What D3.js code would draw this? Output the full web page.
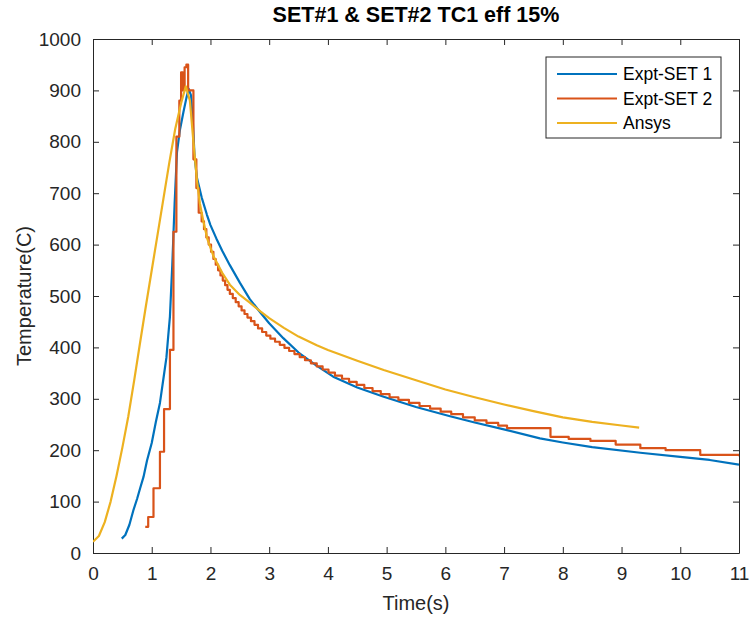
<!DOCTYPE html>
<html>
<head>
<meta charset="utf-8">
<script src="https://cdn.jsdelivr.net/npm/d3@7"></script>
<style>
  body { margin: 0; background: #fff; }
  svg { display: block; font-family: "Liberation Sans", Arial, sans-serif; }
  .axis text { fill: #262626; font-size: 19px; }
  .axis path, .axis line { stroke: #262626; }
</style>
</head>
<body>
<svg id="chart" width="753" height="621"></svg>
<script>
  // Expt-SET 1 readings [time s, temperature C]
  const set1 = [
    [0.49, 28], [0.55, 35], [0.62, 55], [0.69, 84], [0.75, 105], [0.80, 125],
    [0.86, 148], [0.92, 180], [1.00, 214], [1.07, 255], [1.14, 292], [1.20, 340],
    [1.25, 380], [1.28, 421], [1.31, 460], [1.35, 560], [1.39, 680], [1.43, 780],
    [1.48, 823], [1.54, 858], [1.59, 885], [1.63, 903], [1.67, 890], [1.70, 840],
    [1.73, 770], [1.77, 730], [1.85, 692], [1.94, 658], [2.00, 638], [2.10, 612],
    [2.20, 588], [2.33, 560], [2.50, 526], [2.67, 494], [2.85, 468], [3.00, 447],
    [3.24, 418], [3.50, 390], [3.80, 365], [4.09, 343], [4.50, 322], [4.95, 304],
    [5.50, 284], [6.08, 266], [6.50, 254], [7.05, 239], [7.61, 223], [8.00, 215],
    [8.50, 206], [9.32, 195], [10.0, 187], [10.5, 181], [11.0, 172]
  ];

  // Expt-SET 2 readings (stepped logger output)
  const set2 = [
    [0.89, 51], [0.94, 70], [1.03, 126], [1.14, 197], [1.21, 280], [1.31, 395],
    [1.37, 625], [1.42, 810], [1.47, 880], [1.50, 935], [1.53, 900], [1.56, 945],
    [1.59, 950], [1.62, 900], [1.71, 766], [1.76, 710], [1.80, 662], [1.85, 645],
    [1.89, 630], [1.93, 614], [1.97, 600], [2.01, 586], [2.05, 572], [2.09, 561],
    [2.13, 550], [2.17, 540], [2.21, 530], [2.25, 521], [2.29, 512], [2.33, 504],
    [2.38, 496], [2.43, 488], [2.48, 480], [2.53, 472], [2.58, 465], [2.63, 458],
    [2.69, 451], [2.75, 444], [2.81, 437], [2.88, 430], [2.95, 423], [3.02, 417],
    [3.10, 411], [3.18, 405], [3.26, 399], [3.34, 393], [3.43, 387], [3.52, 381],
    [3.61, 375], [3.71, 369], [3.81, 363], [3.91, 357], [4.01, 351], [4.12, 345],
    [4.24, 339], [4.36, 333], [4.49, 327], [4.62, 321], [4.76, 315], [4.90, 309],
    [5.05, 303], [5.20, 298], [5.38, 292], [5.56, 286], [5.74, 281], [5.92, 275],
    [6.10, 270], [6.30, 264], [6.50, 258], [6.70, 253], [6.90, 248], [7.05, 243],
    [7.79, 226], [8.10, 222], [8.47, 218], [8.90, 211], [9.32, 204], [9.75, 200],
    [10.34, 191], [11.0, 188]
  ];

  // Ansys simulation
  const ansys = [
    [0.00, 22], [0.10, 33], [0.20, 60], [0.30, 100], [0.40, 150], [0.50, 205],
    [0.60, 265], [0.70, 335], [0.80, 408], [0.90, 480], [1.00, 550], [1.10, 620],
    [1.20, 690], [1.30, 760], [1.40, 825], [1.50, 875], [1.58, 908], [1.65, 880],
    [1.71, 800], [1.77, 725], [1.82, 680], [1.88, 645], [1.95, 610], [2.05, 578],
    [2.20, 545], [2.33, 522], [2.50, 502], [2.67, 487], [2.85, 470], [3.00, 457],
    [3.25, 438], [3.50, 421], [3.81, 404], [4.00, 395], [4.50, 374], [4.95, 356],
    [5.50, 336], [6.00, 318], [6.50, 303], [7.00, 289], [7.50, 276], [8.00, 264],
    [8.50, 255], [9.00, 248], [9.30, 244]
  ];

  const seriesNames = ['Expt-SET 1', 'Expt-SET 2', 'Ansys'];
  const seriesColors = ['#0072BD', '#D95319', '#EDB120'];
  const xTicks = [0, 1, 2, 3, 4, 5, 6, 7, 8, 9, 10, 11];
  const yTicks = [0, 100, 200, 300, 400, 500, 600, 700, 800, 900, 1000];

  const margin = { left: 93, right: 14, top: 39, bottom: 68 };
  const width = 753, height = 621;
  const svg = d3.select('#chart');

  const x = d3.scaleLinear().domain([0, 11]).range([margin.left, width - margin.right]);
  const y = d3.scaleLinear().domain([0, 1000]).range([height - margin.bottom, margin.top]);

  svg.append('defs').append('clipPath').attr('id', 'plot-clip')
    .append('rect')
    .attr('x', x(0)).attr('y', y(1000))
    .attr('width', x(11) - x(0)).attr('height', y(0) - y(1000));

  // axes, ticks inside like matlab
  svg.append('g').attr('class', 'axis')
    .attr('transform', `translate(0,${y(0)})`)
    .call(d3.axisBottom(x).tickValues(xTicks).tickFormat(d3.format('d'))
      .tickSizeInner(-6).tickSizeOuter(0).tickPadding(14))
    .selectAll('text').attr('dy', '0.71em');
  svg.append('g').attr('class', 'axis')
    .attr('transform', `translate(0,${y(1000)})`)
    .call(d3.axisTop(x).tickValues(xTicks).tickSizeInner(-6).tickSizeOuter(0).tickFormat(''));
  svg.append('g').attr('class', 'axis')
    .attr('transform', `translate(${x(0)},0)`)
    .call(d3.axisLeft(y).tickValues(yTicks).tickFormat(d3.format('d'))
      .tickSizeInner(-6).tickSizeOuter(0).tickPadding(12));
  svg.append('g').attr('class', 'axis')
    .attr('transform', `translate(${x(11)},0)`)
    .call(d3.axisRight(y).tickValues(yTicks).tickSizeInner(-6).tickSizeOuter(0).tickFormat(''));

  const plot = svg.append('g').attr('clip-path', 'url(#plot-clip)');
  const lineSmooth = d3.line().x(d => x(d[0])).y(d => y(d[1]));
  const lineStep = d3.line().x(d => x(d[0])).y(d => y(d[1])).curve(d3.curveStepAfter);

  [[set1, lineSmooth], [set2, lineStep], [ansys, lineSmooth]].forEach(([data, gen], i) => {
    plot.append('path')
      .attr('d', gen(data))
      .attr('fill', 'none')
      .attr('stroke', seriesColors[i])
      .attr('stroke-width', 2.2)
      .attr('stroke-linejoin', 'round');
  });

  // title and labels
  svg.append('text')
    .attr('x', (x(0) + x(11)) / 2).attr('y', 22)
    .attr('text-anchor', 'middle')
    .attr('font-size', 21.5).attr('font-weight', 'bold').attr('fill', '#000')
    .text('SET#1 & SET#2 TC1 eff 15%');
  svg.append('text')
    .attr('x', (x(0) + x(11)) / 2).attr('y', 610)
    .attr('text-anchor', 'middle')
    .attr('font-size', 20).attr('fill', '#262626')
    .text('Time(s)');
  svg.append('text')
    .attr('transform', `translate(31,${(y(0) + y(1000)) / 2}) rotate(-90)`)
    .attr('text-anchor', 'middle')
    .attr('font-size', 20).attr('fill', '#262626')
    .text('Temperature(C)');

  // legend
  const legend = svg.append('g').attr('transform', 'translate(546,57)');
  legend.append('rect')
    .attr('width', 175).attr('height', 81)
    .attr('fill', '#fff').attr('stroke', '#262626').attr('stroke-width', 1);
  const item = legend.selectAll('g.item')
    .data(seriesNames)
    .enter().append('g')
    .attr('class', 'item')
    .attr('transform', (d, i) => `translate(0,${17 + i * 24.5})`);
  item.append('line')
    .attr('x1', 11).attr('x2', 71)
    .attr('stroke', (d, i) => seriesColors[i])
    .attr('stroke-width', 2.2);
  item.append('text')
    .attr('x', 77).attr('dy', '0.35em')
    .attr('font-size', 17.5).attr('fill', '#000')
    .text(d => d);
</script>
</body>
</html>
